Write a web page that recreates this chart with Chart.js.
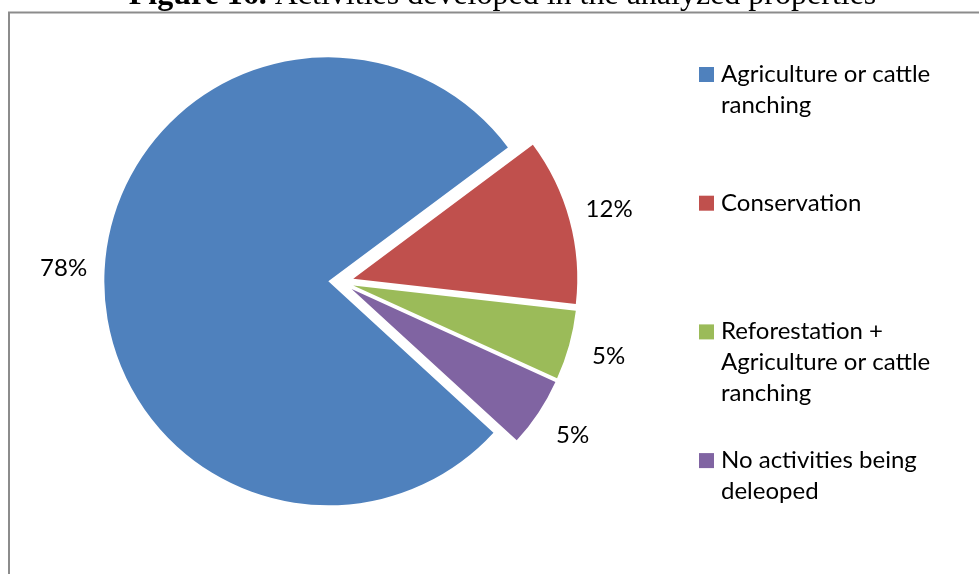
<!DOCTYPE html>
<html>
<head>
<meta charset="utf-8">
<script src="https://cdn.jsdelivr.net/npm/chart.js@4.4.1/dist/chart.umd.min.js"></script>
<style>
  html, body { margin: 0; padding: 0; background: #fff; }
  canvas { display: block; }
</style>
</head>
<body>
<canvas id="c" width="979" height="574"></canvas>
<script>
// ---- data ----
const categories = [
  ['Agriculture or cattle', 'ranching'],
  ['Conservation'],
  ['Reforestation +', 'Agriculture or cattle', 'ranching'],
  ['No activities being', 'deleoped']
];
const values = [78, 12, 5, 5];
const colors = ['#4F81BD', '#C0504D', '#9BBB59', '#8064A2'];
const titleBold = 'Figure 16.';
const titleRest = ' Activities developed in the analyzed properties';

const FONT = '24px Lato';
const EXPLODE = 12.7;

const explodePlugin = {
  id: 'explode',
  afterDatasetsUpdate(chart) {
    const meta = chart.getDatasetMeta(0);
    meta.data.forEach(arc => {
      const mid = (arc.startAngle + arc.endAngle) / 2;
      arc.x += Math.cos(mid) * EXPLODE;
      arc.y += Math.sin(mid) * EXPLODE;
    });
  }
};

const decorPlugin = {
  id: 'decor',
  beforeDraw(chart) {
    const ctx = chart.ctx;
    ctx.save();
    ctx.strokeStyle = '#8c8c8c';
    ctx.lineWidth = 2;
    ctx.strokeRect(9, 12.5, 1200, 1200);
    ctx.restore();
  },
  afterDraw(chart) {
    const ctx = chart.ctx;
    ctx.save();
    // title
    ctx.fillStyle = '#000';
    ctx.textBaseline = 'alphabetic';
    ctx.font = 'bold 32px "Liberation Serif"';
    const wb = ctx.measureText(titleBold).width;
    ctx.font = '32px "Liberation Serif"';
    const wr = ctx.measureText(titleRest).width;
    const x0 = 502.5 - (wb + wr) / 2;
    ctx.font = 'bold 32px "Liberation Serif"';
    ctx.fillText(titleBold, x0, 4);
    ctx.font = '32px "Liberation Serif"';
    ctx.fillText(titleRest, x0 + wb, 4);

    // data labels
    const meta = chart.getDatasetMeta(0);
    const total = values.reduce((a, b) => a + b, 0);
    ctx.font = FONT;
    ctx.textAlign = 'center';
    ctx.textBaseline = 'middle';
    meta.data.forEach((arc, i) => {
      const mid = (arc.startAngle + arc.endAngle) / 2;
      const r = arc.outerRadius + 41;
      const px = arc.x + Math.cos(mid) * r;
      const py = arc.y + Math.sin(mid) * r;
      ctx.fillText(Math.round(values[i] / total * 100) + '%', px, py);
    });

    // legend
    ctx.textAlign = 'left';
    ctx.textBaseline = 'alphabetic';
    categories.forEach((lines, i) => {
      const base = 82 + i * 128.7;
      ctx.fillStyle = colors[i];
      ctx.fillRect(699, base - 15, 15, 15);
      ctx.fillStyle = '#000';
      lines.forEach((ln, j) => ctx.fillText(ln, 721, base + j * 31));
    });
    ctx.restore();
  }
};

new Chart(document.getElementById('c'), {
  type: 'pie',
  data: {
    labels: categories,
    datasets: [{
      data: values,
      backgroundColor: colors,
      borderWidth: 0
    }]
  },
  options: {
    responsive: false,
    animation: false,
    rotation: 132.5,
    radius: 224,
    layout: { padding: { left: 0, top: 0, right: 297, bottom: 10 } },
    plugins: {
      legend: { display: false },
      tooltip: { enabled: false },
      title: { display: false }
    }
  },
  plugins: [explodePlugin, decorPlugin]
});
</script>
</body>
</html>
